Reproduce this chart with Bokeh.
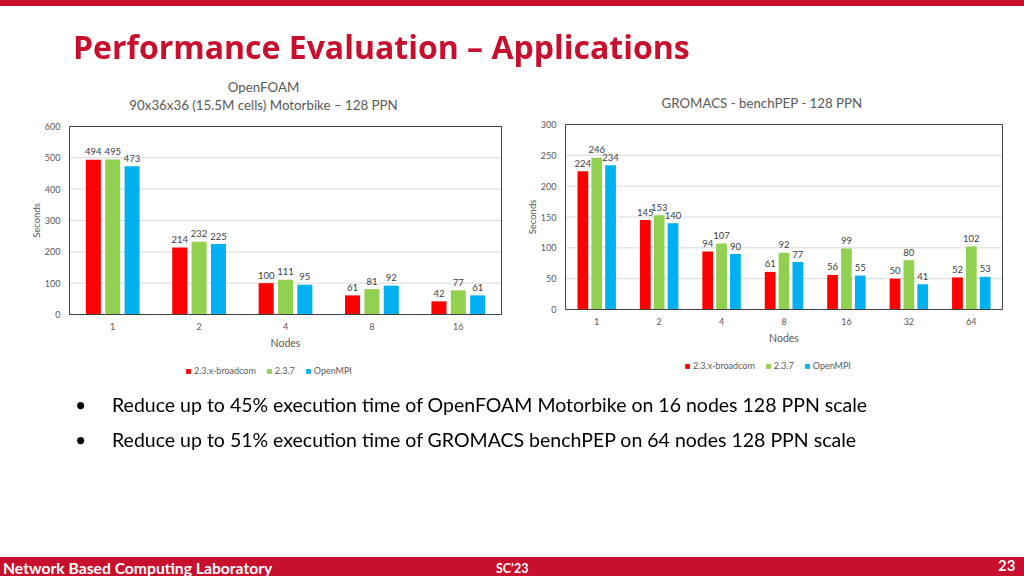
from bokeh.plotting import figure
from bokeh.models import Range1d, ColumnDataSource, Legend, LegendItem, Div
from bokeh.layouts import column
from bokeh.core.properties import value
from bokeh.embed import file_html
from bokeh.resources import INLINE
import math

# ---------------- data ----------------
series_names = ["2.3.x-broadcom", "2.3.7", "OpenMPI"]
series_colors = ["#FF0000", "#92D050", "#00B0F0"]

of_nodes = ["1", "2", "4", "8", "16"]
of_broadcom = [494, 214, 100, 61, 42]
of_237 = [495, 232, 111, 81, 77]
of_openmpi = [473, 225, 95, 92, 61]
of_yticks = [0, 100, 200, 300, 400, 500, 600]

gr_nodes = ["1", "2", "4", "8", "16", "32", "64"]
gr_broadcom = [224, 145, 94, 61, 56, 50, 52]
gr_237 = [246, 153, 107, 92, 99, 80, 102]
gr_openmpi = [234, 140, 90, 77, 55, 41, 53]
gr_yticks = [0, 50, 100, 150, 200, 250, 300]

slide_title = "Performance Evaluation \u2013 Applications"
of_titles = ["OpenFOAM", "90x36x36 (15.5M cells) Motorbike \u2013 128 PPN"]
gr_titles = ["GROMACS - benchPEP - 128 PPN"]
x_label = "Nodes"
y_label = "Seconds"
bullets = [
    "Reduce up to 45% execution time of OpenFOAM Motorbike on 16 nodes 128 PPN scale",
    "Reduce up to 51% execution time of GROMACS benchPEP on 64 nodes 128 PPN scale",
]
footer_left = "Network Based Computing Laboratory"
footer_mid = "SC\u201923"
footer_page = "23"

# ---------------- styling / layout constants ----------------
FONT = "Lato"
GRAY = "#595959"
RED = "#C8102E"
PAGE_X0, PAGE_Y0 = 0, 0            # where the figure lands on the page
FIG_W, FIG_H = 1008, 552
FX0, FX1 = PAGE_X0, PAGE_X0 + FIG_W
FY0, FY1 = PAGE_Y0, PAGE_Y0 + FIG_H


def ranges_for(n, ymax, L, R, T, B):
    """Ranges so that category space 0..n and values 0..ymax fill the
    plot box L..R / T..B (page pixels) of the single full-frame figure."""
    xp = n / (R - L)
    yp = ymax / (B - T)
    xr = Range1d(-(L - FX0) * xp, n + (FX1 - R) * xp)
    yr = Range1d(-(FY1 - B) * yp, ymax + (T - FY0) * yp)
    return xr, yr


LEFT_BOX = (69, 501, 126, 314)
RIGHT_BOX = (565, 1002, 124, 309)

lx, ly = ranges_for(len(of_nodes), of_yticks[-1], *LEFT_BOX)
rx, ry = ranges_for(len(gr_nodes), gr_yticks[-1], *RIGHT_BOX)

p = figure(width=FIG_W, height=FIG_H, x_range=lx, y_range=ly, min_border=0,
           x_axis_location=None, y_axis_location=None, title=None,
           toolbar_location=None, output_backend="svg")
p.extra_x_ranges = {"rx": rx}
p.extra_y_ranges = {"ry": ry}
p.outline_line_color = None
p.background_fill_color = "white"
p.border_fill_color = "white"
for g in p.grid:
    g.visible = False
    g.grid_line_color = None


def txt(xs, ys, texts, xn, yn, size, color=GRAY, align="center", baseline="middle",
        xo=0, yo=0, angle=0.0, style="normal"):
    src = ColumnDataSource(dict(x=xs, y=ys, t=texts))
    p.text(x="x", y="y", text="t", source=src, x_range_name=xn, y_range_name=yn,
           text_align=align, text_baseline=baseline, x_offset=xo, y_offset=yo,
           angle=angle, text_font=value(FONT), text_font_size=size,
           text_color=color, text_font_style=style)


def chart(xn, yn, nodes, vals, yticks, titles, title_dx, title_dys,
          bar_w, step, legend_loc, legend_spacing):
    n = len(nodes)
    ymax = yticks[-1]
    inner = yticks[1:-1]
    p.segment(x0=[0] * len(inner), x1=[n] * len(inner), y0=inner, y1=inner,
              x_range_name=xn, y_range_name=yn, line_color="#D9D9D9", line_width=1)
    items = []
    for i in range(3):
        off = (i - 1) * step
        xs = [k + 0.5 + off for k in range(n)]
        src = ColumnDataSource(dict(x=xs, top=vals[i]))
        r = p.vbar(x="x", top="top", width=bar_w, source=src, x_range_name=xn,
                   y_range_name=yn, fill_color=series_colors[i], line_color=None)
        items.append(LegendItem(label=series_names[i], renderers=[r]))
        txt(xs, vals[i], [str(v) for v in vals[i]], xn, yn, "9.5px", color="#404040",
            baseline="alphabetic", yo=-8)
    # plot-area border
    p.quad(left=[0], right=[n], bottom=[0], top=[ymax], x_range_name=xn,
           y_range_name=yn, fill_alpha=0, line_color="#404040", line_width=1)
    # y tick labels
    txt([0] * len(yticks), yticks, [str(t) for t in yticks], xn, yn, "9px",
        align="right", xo=-9)
    # x tick labels
    txt([k + 0.5 for k in range(n)], [0] * n, nodes, xn, yn, "9px", yo=12)
    # axis titles
    txt([n / 2], [0], [x_label], xn, yn, "10.5px", yo=28)
    txt([0], [ymax / 2], [y_label], xn, yn, "9.5px", xo=-33, angle=math.pi / 2)
    # chart titles
    for t, dy in zip(titles, title_dys):
        txt([n / 2], [ymax], [t], xn, yn, "13.3px", xo=title_dx, yo=dy)
    leg = Legend(items=items, orientation="horizontal", location=legend_loc,
                 glyph_width=6, glyph_height=6, label_text_font=FONT,
                 label_text_font_size="9px", label_text_color=GRAY,
                 label_standoff=3, spacing=legend_spacing, padding=0, margin=0,
                 label_height=10, label_width=5, border_line_color=None,
                 background_fill_alpha=0)
    p.add_layout(leg)


chart("default", "default", of_nodes, [of_broadcom, of_237, of_openmpi], of_yticks,
      of_titles, -22, [-40, -22], 0.174, 0.224, (185 - FX0, FY1 - 376), 10)
chart("rx", "ry", gr_nodes, [gr_broadcom, gr_237, gr_openmpi], gr_yticks,
      gr_titles, -22, [-22], 0.172, 0.222, (684 - FX0, FY1 - 371), 10)

# ---------------- slide chrome (fixed html text) ----------------
html = (
    '<div style="position:fixed;left:0;top:0;width:1024px;height:6px;background:%s;"></div>'
    '<div style="position:fixed;left:73px;top:25px;font-family:\'Open Sans\';font-weight:bold;'
    'font-size:32px;line-height:normal;color:%s;white-space:nowrap;">%s</div>'
    % (RED, RED, slide_title)
)
for k, b in enumerate(bullets):
    top = 393 + 35 * k
    html += ('<div style="position:fixed;left:75px;top:%dpx;font-family:Lato;font-size:19.4px;'
             'line-height:normal;color:#000;white-space:nowrap;">\u2022</div>'
             '<div style="position:fixed;left:112px;top:%dpx;font-family:Lato;font-size:19.5px;'
             'line-height:normal;color:#000;white-space:nowrap;">%s</div>' % (top, top, b))
html += (
    '<div style="position:fixed;left:0;top:557px;width:1024px;height:19px;background:%s;"></div>'
    '<div style="position:fixed;left:3px;top:559px;font-family:Lato;font-weight:bold;'
    'font-size:15.7px;line-height:normal;color:#fff;white-space:nowrap;">%s</div>'
    '<div style="position:fixed;left:496px;top:561px;font-family:Lato;font-weight:bold;'
    'font-size:12.5px;line-height:normal;color:#fff;white-space:nowrap;">%s</div>'
    '<div style="position:fixed;left:998px;top:556px;font-family:Lato;font-weight:bold;'
    'font-size:15px;line-height:normal;color:#fff;white-space:nowrap;">%s</div>'
    % (RED, footer_left, footer_mid, footer_page)
)
chrome = Div(text=html, width=FIG_W, height=8)

open("out.html", "w").write(file_html(column(p, chrome), INLINE))
